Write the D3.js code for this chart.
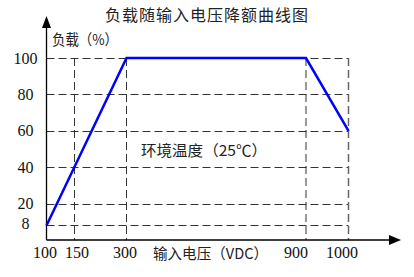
<!doctype HTML>
<html>
<head>
    <style>
        body { margin: 0; background: #fff; }
        .cjk { font-family: "Noto Sans CJK SC", sans-serif; fill: #222; }
        .num { font-family: "Liberation Serif", "DejaVu Serif", serif; font-size: 16px; fill: #111; }
        .grid { stroke: #333; stroke-width: 1; stroke-dasharray: 8,4; fill: none; }
    </style>
    <script src="https://d3js.org/d3.v7.min.js"></script>
</head>
<body>
<script>
    // data
    var voltTicks = [100, 150, 300, 900, 1000];
    var loadTicks = [100, 80, 60, 40, 20, 8];
    var curveVolt = [100, 300, 900, 1000];
    var curveLoad = [8, 100, 100, 60];

    var canvasWidth = 414;
    var canvasHeight = 277;

    var svg = d3.select("body").append("svg")
        .attr("width", canvasWidth)
        .attr("height", canvasHeight);

    // x axis is not to scale in the picture, so piecewise positions
    var xScale = d3.scaleLinear()
        .domain(voltTicks)
        .range([46.5, 74.5, 126.5, 306, 348.5]);
    var yScale = d3.scaleLinear()
        .domain([0, 100])
        .range([240, 58]);

    var x0 = xScale(100), y0 = yScale(0);

    // horizontal dashed lines
    svg.selectAll(".hgrid")
        .data(loadTicks)
        .enter().append("line")
        .attr("class", "grid")
        .attr("x1", x0)
        .attr("x2", xScale(1000))
        .attr("y1", function(d) { return Math.round(yScale(d)) + 0.5; })
        .attr("y2", function(d) { return Math.round(yScale(d)) + 0.5; });

    // vertical dashed lines
    svg.selectAll(".vgrid")
        .data(voltTicks.slice(1))
        .enter().append("line")
        .attr("class", "grid")
        .attr("x1", function(d) { return xScale(d); })
        .attr("x2", function(d) { return xScale(d); })
        .attr("y1", yScale(100))
        .attr("y2", y0)
        .style("stroke", function(d) { return d == 1000 ? "#666" : "#333"; })
        .style("stroke-width", function(d) { return d == 1000 ? 1.5 : 1; });

    // axes with arrows
    svg.append("line")
        .attr("x1", x0).attr("x2", x0)
        .attr("y1", 24).attr("y2", y0)
        .attr("stroke", "#000").attr("stroke-width", 1.3);
    svg.append("line")
        .attr("x1", x0).attr("x2", 392)
        .attr("y1", y0).attr("y2", y0)
        .attr("stroke", "#000").attr("stroke-width", 1.3);
    svg.append("path")
        .attr("d", "M" + x0 + ",16 L" + (x0 - 4.5) + ",28 L" + (x0 + 4.5) + ",28 Z")
        .attr("fill", "#000");
    svg.append("path")
        .attr("d", "M401," + y0 + " L389," + (y0 - 5) + " L389," + (y0 + 5) + " Z")
        .attr("fill", "#000");

    // derating curve
    var line = d3.line()
        .x(function(d) { return xScale(d[0]); })
        .y(function(d) { return yScale(d[1]); });
    svg.append("path")
        .datum(d3.zip(curveVolt, curveLoad))
        .attr("d", line)
        .attr("fill", "none")
        .attr("stroke", "#0000ff")
        .attr("stroke-width", 2.5);

    // tick labels
    svg.selectAll(".ylab")
        .data(loadTicks)
        .enter().append("text")
        .attr("class", "num")
        .attr("x", 25.5)
        .attr("y", function(d) { return (d == 8 ? yScale(d) - 2 : yScale(d)) + 5.5; })
        .attr("text-anchor", "middle")
        .text(function(d) { return d; });

    var xLabelShift = { 100: -1.5, 150: 2.5, 300: -1.5, 900: -10, 1000: -6.5 };
    svg.selectAll(".xlab")
        .data(voltTicks)
        .enter().append("text")
        .attr("class", "num")
        .attr("x", function(d) { return xScale(d) + xLabelShift[d]; })
        .attr("y", 258)
        .attr("text-anchor", "middle")
        .text(function(d) { return d; });

    // titles
    svg.append("text")
        .attr("class", "cjk")
        .attr("x", 105)
        .attr("y", 21)
        .attr("textLength", 203)
        .attr("lengthAdjust", "spacing")
        .style("font-size", "16px")
        .text("负载随输入电压降额曲线图");
    svg.append("text")
        .attr("class", "cjk")
        .attr("x", 52)
        .attr("y", 45)
        .attr("textLength", 66)
        .attr("lengthAdjust", "spacingAndGlyphs")
        .style("font-size", "15px")
        .text("负载（%）");
    svg.append("text")
        .attr("class", "cjk")
        .attr("x", 153)
        .attr("y", 259)
        .attr("textLength", 115)
        .attr("lengthAdjust", "spacingAndGlyphs")
        .style("font-size", "15px")
        .text("输入电压（VDC）");
    svg.append("text")
        .attr("class", "cjk")
        .attr("x", 141)
        .attr("y", 156)
        .attr("textLength", 126)
        .attr("lengthAdjust", "spacingAndGlyphs")
        .style("font-size", "15px")
        .text("环境温度（25℃）");
</script>
</body>
</html>
